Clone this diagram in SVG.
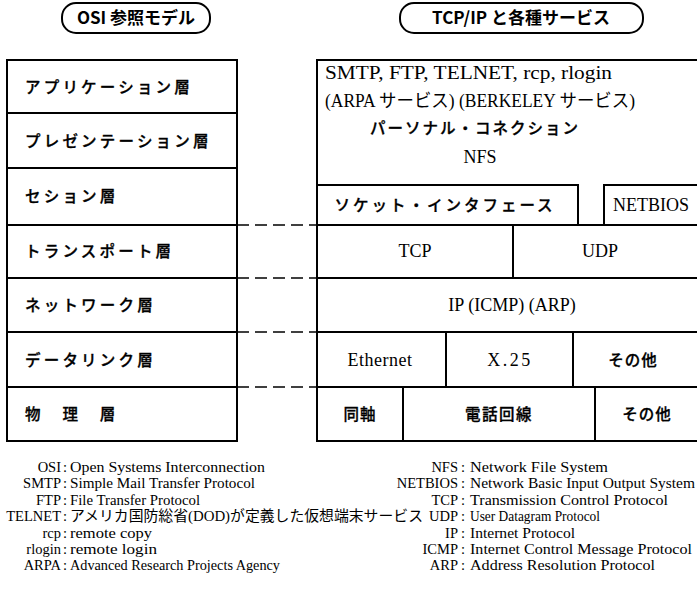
<svg xmlns="http://www.w3.org/2000/svg" width="697" height="604" viewBox="0 0 697 604">
<style>
.bg{fill:#fff}
.box{fill:#fff;stroke:#000;stroke-width:2}
.line{fill:none;stroke:#000;stroke-width:2}
.pill{fill:#fff;stroke:#000;stroke-width:2}
.dash{fill:none;stroke:#000;stroke-width:1.6;stroke-dasharray:12 6}
.hd{font-family:"Noto Sans CJK JP","Liberation Sans",sans-serif;font-weight:700;font-size:17px;fill:#000}
.jp{font-family:"Noto Sans CJK JP",sans-serif;font-weight:500;font-size:15.5px;fill:#000;stroke:#000;stroke-width:0.3}
.sf{font-family:"Liberation Serif","Noto Sans CJK JP",serif;font-size:18px;fill:#000}
.lg{font-family:"Liberation Serif","Noto Sans CJK JP",serif;font-size:14.5px;fill:#000}
.c{text-anchor:middle}
.e{text-anchor:end}
</style>
<rect class="bg" x="0" y="0" width="697" height="604"/>

<g id="header-osi">
<rect class="pill" x="62" y="3" width="148" height="30" rx="14" ry="14"/>
<text class="hd c" x="136" y="24">OSI 参照モデル</text>
</g>
<g id="header-tcpip">
<rect class="pill" x="400" y="3" width="243" height="30" rx="14" ry="14"/>
<text class="hd c" x="521" y="24">TCP/IP と各種サービス</text>
</g>

<g id="osi-application"><rect class="box" x="7" y="60" width="230" height="53"/><text class="jp" x="25" y="93" letter-spacing="3.2">アプリケーション層</text></g>
<g id="osi-presentation"><rect class="box" x="7" y="113" width="230" height="55"/><text class="jp" x="25" y="147" letter-spacing="3.2">プレゼンテーション層</text></g>
<g id="osi-session"><rect class="box" x="7" y="168" width="230" height="57"/><text class="jp" x="25" y="202" letter-spacing="3.2">セション層</text></g>
<g id="osi-transport"><rect class="box" x="7" y="225" width="230" height="53"/><text class="jp" x="25" y="257" letter-spacing="3.2">トランスポート層</text></g>
<g id="osi-network"><rect class="box" x="7" y="278" width="230" height="54"/><text class="jp" x="25" y="311" letter-spacing="3.2">ネットワーク層</text></g>
<g id="osi-datalink"><rect class="box" x="7" y="332" width="230" height="55"/><text class="jp" x="25" y="366" letter-spacing="3.2">データリンク層</text></g>
<g id="osi-physical"><rect class="box" x="7" y="387" width="230" height="54"/><text class="jp" x="25" y="420" letter-spacing="3.2">物　理　層</text></g>

<g id="tcp-services">
<path class="line" d="M317,185 V60 H705"/>
<text class="sf" x="325" y="79" textLength="287" lengthAdjust="spacingAndGlyphs">SMTP, FTP, TELNET, rcp, rlogin</text>
<text class="sf" x="325" y="107" textLength="310" lengthAdjust="spacingAndGlyphs">(ARPA サービス) (BERKELEY サービス)</text>
<text class="jp" x="370" y="134" letter-spacing="2">パーソナル・コネクション</text>
<text class="sf c" x="480" y="163">NFS</text>
</g>
<g id="tcp-socket"><rect class="box" x="317" y="185" width="261" height="40"/><text class="jp c" x="445" y="211" letter-spacing="3">ソケット・インタフェース</text></g>
<g id="tcp-netbios"><rect class="box" x="604" y="185" width="100" height="40"/><text class="sf" x="613" y="211">NETBIOS</text></g>
<g id="tcp-tcp"><rect class="box" x="317" y="225" width="196" height="53"/><text class="sf c" x="415" y="257">TCP</text></g>
<g id="tcp-udp"><rect class="box" x="513" y="225" width="191" height="53"/><text class="sf c" x="600" y="257">UDP</text></g>
<g id="tcp-ip"><rect class="box" x="317" y="278" width="387" height="54"/><text class="sf c" x="512" y="311">IP (ICMP) (ARP)</text></g>
<g id="tcp-ethernet"><rect class="box" x="317" y="332" width="129" height="55"/><text class="sf c" x="380" y="366" letter-spacing="0.5">Ethernet</text></g>
<g id="tcp-x25"><rect class="box" x="446" y="332" width="127" height="55"/><text class="sf c" x="510" y="366" letter-spacing="2.5">X.25</text></g>
<g id="tcp-other-dl"><rect class="box" x="573" y="332" width="131" height="55"/><text class="jp c" x="633" y="366" letter-spacing="1">その他</text></g>
<g id="tcp-coax"><rect class="box" x="317" y="387" width="86" height="54"/><text class="jp c" x="360" y="420" letter-spacing="1">同軸</text></g>
<g id="tcp-phone"><rect class="box" x="403" y="387" width="192" height="54"/><text class="jp c" x="499" y="420" letter-spacing="1.5">電話回線</text></g>
<g id="tcp-other-ph"><rect class="box" x="595" y="387" width="109" height="54"/><text class="jp c" x="647" y="420" letter-spacing="1">その他</text></g>

<g id="connectors">
<line class="dash" x1="237" y1="225" x2="317" y2="225"/>
<line class="dash" x1="237" y1="278" x2="317" y2="278"/>
<line class="dash" x1="237" y1="332" x2="317" y2="332"/>
<line class="dash" x1="237" y1="387" x2="317" y2="387"/>
</g>

<g id="legend-left">
<text class="lg e" x="61" y="472">OSI</text><text class="lg c" x="65" y="472">:</text><text class="lg" x="70" y="472" textLength="195" lengthAdjust="spacingAndGlyphs">Open Systems Interconnection</text>
<text class="lg e" x="61" y="488">SMTP</text><text class="lg c" x="65" y="488">:</text><text class="lg" x="70" y="488" textLength="185" lengthAdjust="spacingAndGlyphs">Simple Mail Transfer Protocol</text>
<text class="lg e" x="61" y="505">FTP</text><text class="lg c" x="65" y="505">:</text><text class="lg" x="70" y="505" textLength="130" lengthAdjust="spacingAndGlyphs">File Transfer Protocol</text>
<text class="lg e" x="61" y="521">TELNET</text><text class="lg c" x="65" y="521">:</text><text class="lg" x="70" y="521" textLength="353" lengthAdjust="spacingAndGlyphs">アメリカ国防総省(DOD)が定義した仮想端末サービス</text>
<text class="lg e" x="61" y="538">rcp</text><text class="lg c" x="65" y="538">:</text><text class="lg" x="70" y="538" textLength="82" lengthAdjust="spacingAndGlyphs">remote copy</text>
<text class="lg e" x="61" y="554">rlogin</text><text class="lg c" x="65" y="554">:</text><text class="lg" x="70" y="554" textLength="87" lengthAdjust="spacingAndGlyphs">remote login</text>
<text class="lg e" x="61" y="570">ARPA</text><text class="lg c" x="65" y="570">:</text><text class="lg" x="70" y="570" textLength="210" lengthAdjust="spacingAndGlyphs">Advanced Research Projects Agency</text>
</g>
<g id="legend-right">
<text class="lg e" x="458" y="472">NFS</text><text class="lg c" x="463" y="472">:</text><text class="lg" x="470" y="472" textLength="138" lengthAdjust="spacingAndGlyphs">Network File System</text>
<text class="lg e" x="458" y="488">NETBIOS</text><text class="lg c" x="463" y="488">:</text><text class="lg" x="470" y="488" textLength="225" lengthAdjust="spacingAndGlyphs">Network Basic Input Output System</text>
<text class="lg e" x="458" y="505">TCP</text><text class="lg c" x="463" y="505">:</text><text class="lg" x="470" y="505" textLength="198" lengthAdjust="spacingAndGlyphs">Transmission Control Protocol</text>
<text class="lg e" x="458" y="521">UDP</text><text class="lg c" x="463" y="521">:</text><text class="lg" x="470" y="521" textLength="130" lengthAdjust="spacingAndGlyphs">User Datagram Protocol</text>
<text class="lg e" x="458" y="538">IP</text><text class="lg c" x="463" y="538">:</text><text class="lg" x="470" y="538" textLength="105" lengthAdjust="spacingAndGlyphs">Internet Protocol</text>
<text class="lg e" x="458" y="554">ICMP</text><text class="lg c" x="463" y="554">:</text><text class="lg" x="470" y="554" textLength="222" lengthAdjust="spacingAndGlyphs">Internet Control Message Protocol</text>
<text class="lg e" x="458" y="570">ARP</text><text class="lg c" x="463" y="570">:</text><text class="lg" x="470" y="570" textLength="185" lengthAdjust="spacingAndGlyphs">Address Resolution Protocol</text>
</g>
</svg>
